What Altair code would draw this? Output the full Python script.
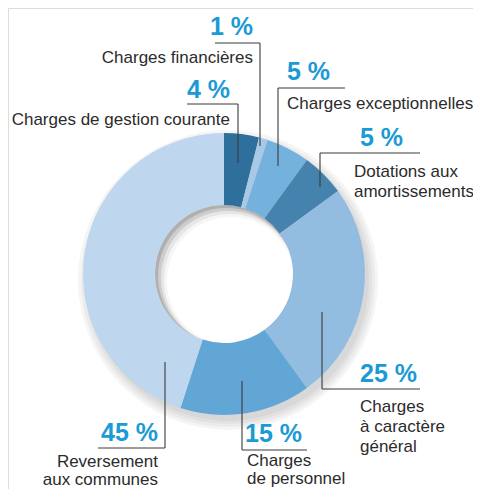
import altair as alt
import pandas as pd

# ---- data ----
categories = [
    "Charges de gestion courante",
    "Charges financières",
    "Charges exceptionnelles",
    "Dotations aux amortissements",
    "Charges à caractère général",
    "Charges de personnel",
    "Reversement aux communes",
]
values = [4, 1, 5, 5, 25, 15, 45]
colors = ["#2f6f9b", "#a8c8e7", "#74b1dd", "#4682ae", "#93bce1", "#62a6d6", "#bed6ee"]

# label texts (lines) per category
label_lines = [
    ["Charges de gestion courante"],
    ["Charges financières"],
    ["Charges exceptionnelles"],
    ["Dotations aux", "amortissements"],
    ["Charges", "à caractère", "général"],
    ["Charges", "de personnel"],
    ["Reversement", "aux communes"],
]

# ---- layout (page pixel coordinates) ----
pct_pos = [(230, 98, "right"), (253, 35, "right"), (287, 80, "left"), (360, 146, "left"),
           (360, 382, "left"), (245, 442, "left"), (158, 441, "right")]
label_pos = [(230, 125, "right"), (253, 63, "right"), (287, 109, "left"), (354, 177, "left"),
             (360, 412, "left"), (247, 466, "left"), (158, 467, "right")]
line_steps = [20, 20, 20, 20, 20, 18, 18]
# leader: (vertical x, y top, y bottom, horizontal y, x1, x2)
leaders = [
    (238, 104, 163, 104, 187, 238),
    (260, 43, 146, 43, 215, 260),
    (278, 88, 166, 88, 278, 345),
    (320, 153, 187, 153, 320, 420),
    (322, 312, 389, 389, 322, 420),
    (242, 381, 450, 450, 242, 307),
    (165, 362, 448, 448, 98, 165),
]
cx, cy = 224, 274
r_out, r_in = 141, 69

W, H = 465, 481
xs = alt.Scale(domain=[8, 8 + W], range=[0, W])
ys = alt.Scale(domain=[8, 8 + H], range=[0, H])
px, py = cx - 8, cy - 8

df = pd.DataFrame({"cat": categories, "val": values, "ord": list(range(len(values)))})
one = pd.DataFrame({"v": [1]})


def disc(r, color, opacity, dx=0, dy=0):
    # vega circle symbol: size = (diameter)^2
    return alt.Chart(one).mark_circle(
        size=(2 * r) ** 2, color=color, opacity=opacity, strokeWidth=0
    ).encode(x=alt.value(px + dx), y=alt.value(py + dy))


# soft outer shadow
shadows = [disc(r_out + k, "#000000", 0.04, 4, 6) for k in (9, 6, 3, 0)]
# recessed hole shading (grey crescent top-left)
hole = [
    disc(r_in, "#b0b0b0", 1),
    disc(r_in - 1, "#cdcdcd", 1, 2, 2),
    disc(r_in - 2, "#e6e6e6", 1, 4, 4),
    disc(r_in - 3, "#f6f6f6", 1, 6, 6),
    disc(r_in - 5, "#ffffff", 1, 7, 7),
]

arc = alt.Chart(df).mark_arc(outerRadius=r_out, innerRadius=r_in).encode(
    theta=alt.Theta("val:Q", stack=True),
    order=alt.Order("ord:Q"),
    color=alt.Color("cat:N", scale=alt.Scale(domain=categories, range=colors), legend=None),
    x=alt.value(px),
    y=alt.value(py),
)

seg_rows = []
for (vx, yt, yb, hy, x1, x2) in leaders:
    seg_rows.append({"x": vx, "y": yt, "x2": vx, "y2": yb})
    seg_rows.append({"x": x1, "y": hy, "x2": x2, "y2": hy})
segs = alt.Chart(pd.DataFrame(seg_rows)).mark_rule(color="#3a3a3a", strokeWidth=1.1).encode(
    x=alt.X("x:Q", scale=xs, axis=None),
    y=alt.Y("y:Q", scale=ys, axis=None),
    x2="x2:Q",
    y2="y2:Q",
)

pct_rows = []
for v, (tx, ty, al) in zip(values, pct_pos):
    pct_rows.append({"x": tx, "y": ty, "t": f"{v} %", "a": al})
lab_rows = []
for lines, (lx, ly, al), st in zip(label_lines, label_pos, line_steps):
    for i, ln in enumerate(lines):
        lab_rows.append({"x": lx, "y": ly + i * st, "t": ln, "a": al})


def text_layer(rows, align, **kw):
    d = pd.DataFrame([r for r in rows if r["a"] == align])
    return alt.Chart(d).mark_text(align=align, baseline="alphabetic", **kw).encode(
        x=alt.X("x:Q", scale=xs, axis=None),
        y=alt.Y("y:Q", scale=ys, axis=None),
        text="t:N",
    )


pct_style = dict(font="Liberation Sans", fontSize=25, fontWeight="bold", color="#1b9ad6")
lab_style = dict(font="Liberation Sans", fontSize=17, color="#2b2b2b")

chart = alt.layer(
    *shadows,
    *hole,
    arc,
    segs,
    text_layer(pct_rows, "left", **pct_style),
    text_layer(pct_rows, "right", **pct_style),
    text_layer(lab_rows, "left", **lab_style),
    text_layer(lab_rows, "right", **lab_style),
).properties(
    width=W, height=H, autosize=alt.AutoSizeParams(type="none"), padding=0
).configure_view(stroke=None).configure(background="white")

chart.save("out.html", embed_options={"renderer": "svg", "actions": False})
